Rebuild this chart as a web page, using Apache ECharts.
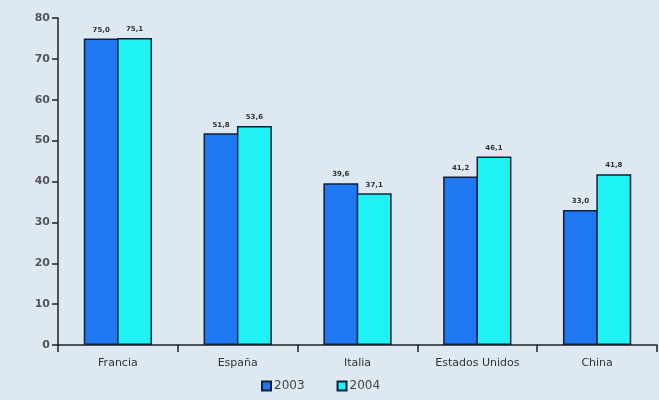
<!DOCTYPE html>
<html>
<head>
<meta charset="utf-8">
<script src="https://cdn.jsdelivr.net/npm/echarts@6/dist/echarts.min.js"></script>
<style>
  html, body { margin: 0; padding: 0; }
  #chart { width: 659px; height: 400px; background: #dde8f1; }
</style>
</head>
<body>
<div id="chart"></div>
<script>
const categories = ['Francia', 'España', 'Italia', 'Estados Unidos', 'China'];
const values2003 = [75.0, 51.8, 39.6, 41.2, 33.0];
const values2004 = [75.1, 53.6, 37.1, 46.1, 41.8];
const seriesNames = ['2003', '2004'];

const chart = echarts.init(document.getElementById('chart'));
const fmt = p => p.value.toFixed(1).replace('.', ',');
const barLabel = {
  show: true, position: 'top', distance: 5,
  formatter: fmt, fontSize: 7, fontWeight: 'bold', color: '#333',
  fontFamily: 'DejaVu Sans'
};
// Bars share one outline where they touch, so the gap is pulled in by the border width
const border = { borderColor: '#10203a', borderWidth: 1.5 };

chart.setOption({
  backgroundColor: '#dde8f1',
  textStyle: { fontFamily: 'DejaVu Sans' },
  grid: { left: 58, right: 2, top: 18, bottom: 55 },
  legend: {
    bottom: 3, left: 256, itemWidth: 9, itemHeight: 9, itemGap: 32,
    icon: 'rect',
    textStyle: { fontSize: 12, color: '#444', padding: [0, 0, 0, -2] },
    data: seriesNames
  },
  xAxis: {
    type: 'category', data: categories,
    axisLine: { lineStyle: { color: '#222', width: 1.5 } },
    axisTick: { show: true, length: 7, lineStyle: { color: '#222', width: 1.5 } },
    axisLabel: { color: '#333', fontSize: 11, margin: 13 }
  },
  yAxis: {
    type: 'value', min: 0, max: 80, interval: 10,
    axisLine: { show: true, lineStyle: { color: '#222', width: 1.5 } },
    axisTick: { show: true, length: 6, lineStyle: { color: '#222', width: 1.5 } },
    splitLine: { show: false },
    axisLabel: { color: '#555', fontSize: 11, fontWeight: 'bold', margin: 8 }
  },
  series: [
    {
      name: seriesNames[0], type: 'bar', data: values2003,
      barCategoryGap: '43%', barGap: '-4.5%',
      itemStyle: Object.assign({ color: '#1f78f2' }, border),
      label: barLabel
    },
    {
      name: seriesNames[1], type: 'bar', data: values2004,
      barCategoryGap: '43%', barGap: '-4.5%',
      itemStyle: Object.assign({ color: '#1ff2f2' }, border),
      label: barLabel
    }
  ]
});
</script>
</body>
</html>
